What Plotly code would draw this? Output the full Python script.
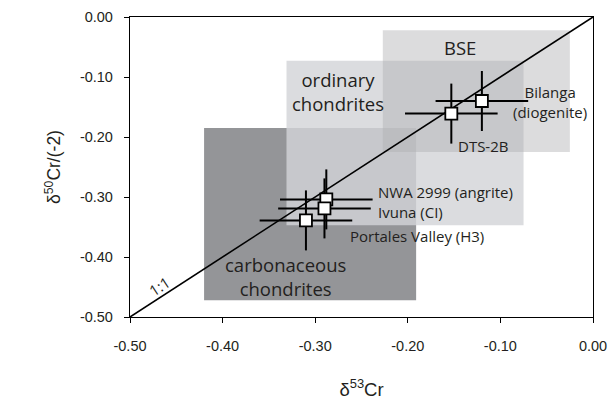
import plotly.graph_objects as go

# Sample data
samples = ["Bilanga (diogenite)", "DTS-2B", "NWA 2999 (angrite)", "Ivuna (CI)", "Portales Valley (H3)"]
d53 = [-0.120, -0.153, -0.288, -0.290, -0.310]
d50 = [-0.140, -0.161, -0.304, -0.319, -0.339]
err_x = [0.05, 0.05, 0.05, 0.05, 0.05]
err_y = [0.05, 0.05, 0.05, 0.05, 0.05]

# Reservoir fields (x0, x1, y0, y1)
fields = ["carbonaceous chondrites", "ordinary chondrites", "BSE"]
field_x0 = [-0.420, -0.331, -0.227]
field_x1 = [-0.191, -0.075, -0.025]
field_y0 = [-0.472, -0.347, -0.225]
field_y1 = [-0.185, -0.073, -0.022]
field_fill = ["rgb(148,149,152)", "rgba(211,212,215,0.81)", "rgba(173,174,177,0.43)"]

line_11 = [-0.5, 0.0]

tick_vals = [-0.5, -0.4, -0.3, -0.2, -0.1, 0.0]
tick_text = ["-0.50", "-0.40", "-0.30", "-0.20", "-0.10", "0.00"]

fig = go.Figure()

for i in range(len(fields)):
    fig.add_shape(type="rect", xref="x", yref="y",
                  x0=field_x0[i], x1=field_x1[i], y0=field_y0[i], y1=field_y1[i],
                  fillcolor=field_fill[i], line=dict(width=0), layer="below")

fig.add_trace(go.Scatter(x=line_11, y=line_11, mode="lines",
                         line=dict(color="black", width=1.6), showlegend=False,
                         hoverinfo="skip"))

fig.add_trace(go.Scatter(
    x=d53, y=d50, mode="markers", showlegend=False, text=samples,
    marker=dict(symbol="square", size=12, color="white", line=dict(color="black", width=1.8)),
    error_x=dict(type="data", array=err_x, color="black", thickness=2, width=0),
    error_y=dict(type="data", array=err_y, color="black", thickness=2, width=0),
))

lab_font = dict(family="Open Sans", size=15, color="#231f20")
big_font = dict(family="Open Sans", size=18.5, color="#231f20")

annos = [
    dict(x=-0.144, y=-0.051, text="BSE", font=big_font, xanchor="center"),
    dict(x=-0.275, y=-0.124, text="ordinary<br>chondrites", font=big_font, xanchor="center"),
    dict(x=-0.332, y=-0.433, text="carbonaceous<br>chondrites", font=big_font, xanchor="center"),
    dict(x=-0.046, y=-0.142, text="Bilanga<br>(diogenite)", font=lab_font, xanchor="center"),
    dict(x=-0.148, y=-0.215, text="DTS-2B", font=lab_font, xanchor="left"),
    dict(x=-0.234, y=-0.291, text="NWA 2999 (angrite)", font=lab_font, xanchor="left"),
    dict(x=-0.234, y=-0.325, text="Ivuna (CI)", font=lab_font, xanchor="left"),
    dict(x=-0.265, y=-0.365, text="Portales Valley (H3)", font=lab_font, xanchor="left"),
    dict(x=-0.468, y=-0.449, text="1:1", font=lab_font, xanchor="center", textangle=-33),
]
for a in annos:
    a.update(xref="x", yref="y", showarrow=False, yanchor="middle")
    fig.add_annotation(**a)

axis_common = dict(showgrid=False, zeroline=False, showline=True, linecolor="black",
                   linewidth=1.3, mirror=True, ticks="outside", ticklen=5,
                   tickcolor="black", tickwidth=1.3, tickvals=tick_vals, ticktext=tick_text,
                   automargin=False,
                   tickfont=dict(family="Liberation Sans, Arial", size=14.5, color="#231f20"))

fig.update_xaxes(range=[-0.5, 0.0], title=dict(text="δ<sup>53</sup>Cr",
                 font=dict(family="Liberation Sans, Arial", size=18.5, color="#231f20"), standoff=34),
                 ticklabelstandoff=10, **axis_common)
fig.update_yaxes(range=[-0.5, 0.0], title=dict(text="δ<sup>50</sup>Cr/(-2)",
                 font=dict(family="Liberation Sans, Arial", size=17.5, color="#231f20"), standoff=14),
                 ticklabelstandoff=8, **axis_common)

fig.update_layout(width=612, height=400, margin=dict(l=130, r=19, t=17, b=83),
                  plot_bgcolor="white", paper_bgcolor="white")

fig.write_html("out.html")
